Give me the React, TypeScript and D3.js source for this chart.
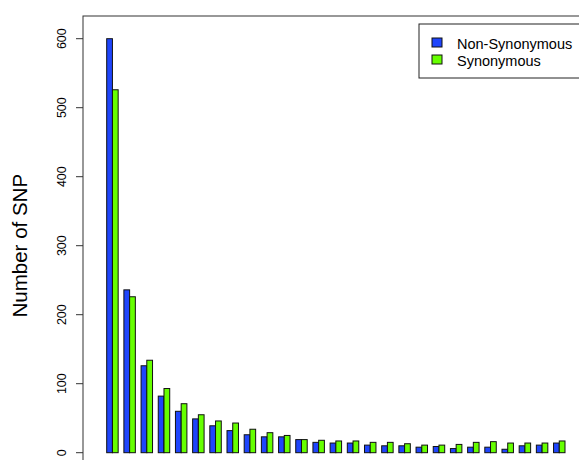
import React from 'react';
import * as d3 from 'd3';

const groups = d3.range(1, 28).map(String);
const nonSynonymous = [600, 236, 126, 82, 60, 49, 39, 32, 26, 23, 23, 19, 15, 14, 14, 11, 10, 10, 8, 9, 6, 8, 8, 5, 10, 11, 14];
const synonymous = [526, 226, 134, 93, 71, 55, 46, 43, 34, 29, 25, 19, 18, 17, 17, 15, 15, 13, 11, 11, 12, 15, 16, 14, 14, 14, 17];
const seriesNames = ['Non-Synonymous', 'Synonymous'];
const seriesColors = ['#1f45fc', '#66ff00'];
const yTicks = [0, 100, 200, 300, 400, 500, 600];

const width = 579;
const height = 460;
const box = { left: 83, top: 16 };
const font = 'Liberation Sans, Arial, Helvetica, sans-serif';

const App = () => {
  const x0 = d3.scaleBand()
    .domain(groups)
    .range([106.7, 565])
    .paddingInner(1 / 3)
    .paddingOuter(0);

  const x1 = d3.scaleBand()
    .domain(seriesNames)
    .range([0, x0.bandwidth()]);

  const y = d3.scaleLinear()
    .domain([0, 600])
    .range([452.7, 38.7]);

  const series = [nonSynonymous, synonymous];

  return (
    <svg width={width} height={height} style={{ position: 'absolute', left: 0, top: 0, background: '#fff' }}>
      {/* plot box, runs off the right/bottom */}
      <rect x={box.left} y={box.top} width={width} height={height} fill="none" stroke="#333" strokeWidth={1} />

      {groups.map((g, i) => (
        <g key={g} transform={`translate(${x0(g)},0)`}>
          {series.map((vals, s) => (
            <rect
              key={s}
              x={x1(seriesNames[s])}
              y={y(vals[i])}
              width={x1.bandwidth()}
              height={y(0) - y(vals[i])}
              fill={seriesColors[s]}
              stroke="#111"
              strokeWidth={1}
            />
          ))}
        </g>
      ))}

      {/* y axis */}
      <g fontFamily={font} fontSize={12.5} fill="#000">
        {yTicks.map(t => (
          <g key={t}>
            <line x1={box.left - 7} x2={box.left} y1={y(t)} y2={y(t)} stroke="#333" />
            <text
              transform={`translate(66,${y(t)}) rotate(-90)`}
              textAnchor="middle"
            >
              {t}
            </text>
          </g>
        ))}
      </g>
      <text
        transform={`translate(27,${(y(0) + y(600)) / 2}) rotate(-90)`}
        textAnchor="middle"
        fontFamily={font}
        fontSize={20.5}
      >
        Number of SNP
      </text>

      {/* legend */}
      <g fontFamily={font} fontSize={14.5}>
        <rect x={419} y={24} width={200} height={54} fill="#fff" stroke="#222" />
        {seriesNames.map((n, s) => (
          <g key={n}>
            <rect x={432} y={38 + s * 17} width={10} height={9} fill={seriesColors[s]} stroke="#111" />
            <text x={457} y={48.5 + s * 17}>{n}</text>
          </g>
        ))}
      </g>
    </svg>
  );
};

export default App;
